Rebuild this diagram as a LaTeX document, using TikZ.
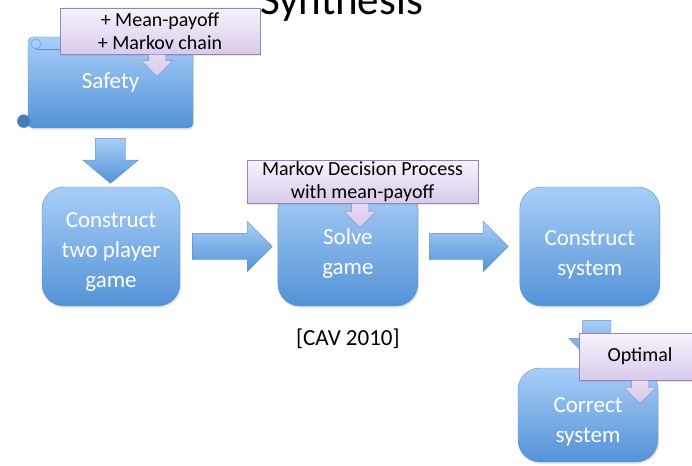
\documentclass[tikz,border=0pt]{standalone}
\usepackage{fontspec}
\setmainfont{Carlito}
\usepackage{tikz}
\usetikzlibrary{shapes.arrows,positioning,shadows}
\usepackage{xcolor}
\definecolor{boxtop}{RGB}{168,206,248}
\definecolor{boxbot}{RGB}{84,146,214}
\definecolor{boxline}{RGB}{96,146,206}
\definecolor{remtop}{RGB}{247,243,251}
\definecolor{rembot}{RGB}{216,203,235}
\definecolor{remline}{RGB}{152,130,188}
\newcommand{\boxfont}{\fontsize{23}{30}\selectfont}
\newcommand{\remfont}{\fontsize{20}{23.5}\selectfont}
\newcommand{\firstline}[1]{\rule{0pt}{#1}}
\tikzstyle{block} = [rectangle, draw=boxline, top color=boxtop, bottom color=boxbot, rounded corners=22pt, minimum width=138pt, minimum height=119pt, inner sep=0pt, align=center, text=white, font=\boxfont, drop shadow={opacity=0.18, shadow xshift=1pt, shadow yshift=-2pt}]
\tikzstyle{scroll} = [rectangle, draw=boxline, top color=boxtop, bottom color=boxbot, rounded corners=5pt, minimum width=165pt, minimum height=91pt, inner sep=0pt, text=white, font=\boxfont, drop shadow={opacity=0.18, shadow xshift=1pt, shadow yshift=-2pt}]
\tikzstyle{bigarrow} = [single arrow, draw=boxline, top color=boxtop, bottom color=boxbot, inner sep=0pt, minimum width=0pt, single arrow head extend=12pt, anchor=tail]
\tikzstyle{remark} = [rectangle, draw=remline, top color=remtop, bottom color=rembot, inner sep=0pt, align=center, font=\remfont, drop shadow={opacity=0.18, shadow xshift=1pt, shadow yshift=-2pt}]
\tikzstyle{remark arrow} = [single arrow, draw=remline, top color=remtop!40!rembot, bottom color=rembot, inner sep=0pt, inner xsep=8.5pt, minimum width=0pt, shape border rotate=270, single arrow head extend=7pt, minimum height=23pt, anchor=tail]

\begin{document}
\begin{tikzpicture}[x=1pt, y=-1pt]
	\useasboundingbox (0,0) rectangle (692,465);
	%% title
	\node[anchor=base, font=\fontsize{43}{50}\selectfont] (title) at (341.5,15) {Synthesis};
	%% Safety scroll
	\node[scroll] (safety) at (110.5,82.5) {\raisebox{-4pt}{Safety}};
	\draw[boxline] ([xshift=8pt,yshift=-12pt]safety.north west) -- ([yshift=-12pt]safety.north east);
	\draw[boxline, fill=boxtop] ([xshift=8pt,yshift=-7pt]safety.north west) circle (5pt);
	\draw[boxline, fill=boxbot!85!black] ([xshift=-4pt,yshift=7pt]safety.south west) circle (6.5pt);
	%% down to game
	\node[bigarrow, shape border rotate=270, inner xsep=15pt, minimum height=45pt, single arrow head extend=12.5pt, single arrow tip angle=100] (down0) at ([yshift=-10pt]safety.south) {};
	%% two player game
	\node[block] (game) at (111,246.5) {\firstline{26pt}Construct\\two player\\game};
	%% solve
	\node[bigarrow, inner ysep=13pt, minimum height=80pt] (right1) at ([xshift=12pt]game.east) {};
	\node[block, minimum width=140pt, right=5pt of right1.tip] (solve) {\firstline{30pt}Solve\\game};
	\node[font=\boxfont, inner sep=0pt, below=22pt of solve] (cav) {[CAV 2010]};
	%% system
	\node[bigarrow, inner ysep=13pt, minimum height=79pt] (right2) at ([xshift=11pt]solve.east) {};
	\node[block, minimum width=140pt, right=11pt of right2.tip] (sys) {\firstline{32pt}Construct\\system};
	%% correct system
	\node[bigarrow, shape border rotate=270, inner xsep=14pt, minimum height=46pt, single arrow head extend=14pt] (down1) at ([xshift=7pt,yshift=-14pt]sys.south) {};
	\node[block, minimum width=140pt, minimum height=94pt] (correct) at (588,415) {\firstline{29pt}Correct\\system};
	%% remarks
	\node[remark, minimum width=200pt, minimum height=46pt] (rem1) at (160,31) {+ Mean-payoff\\+ Markov chain};
	\node[remark arrow, minimum height=22pt] (rem1a) at ([xshift=-3pt]rem1.south) {};
	\node[remark, minimum width=231pt, minimum height=43pt] (rem2) at (362.5,181.5) {Markov Decision Process\\with mean-payoff};
	\node[remark arrow, minimum height=24pt] (rem2a) at ([xshift=-2.5pt]rem2.south) {};
	\node[remark, minimum width=122pt, minimum height=47pt] (rem3) at (640,356.5) {\raisebox{-2pt}{Optimal}};
	\node[remark arrow] (rem3a) at (rem3.south) {};
\end{tikzpicture}
\end{document}
